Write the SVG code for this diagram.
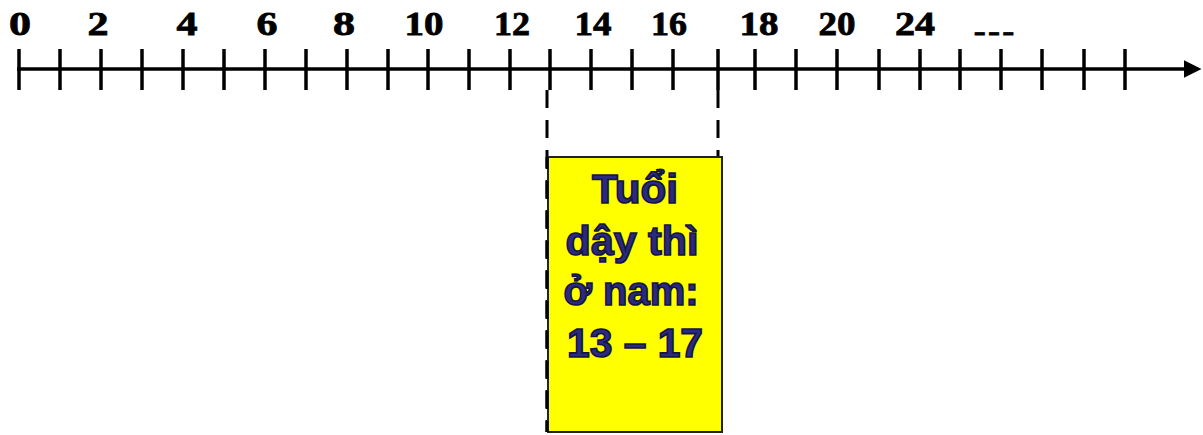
<svg xmlns="http://www.w3.org/2000/svg" width="1203" height="435" viewBox="0 0 1203 435">
<style>
.num{font-family:"Liberation Serif","Times New Roman",serif;font-weight:bold;font-size:34px;fill:#000;stroke:#000;stroke-width:0.8;text-anchor:middle}
.tick{stroke:#000;stroke-width:3.5}
.dash{stroke:#000;stroke-width:3;stroke-dasharray:18 12;fill:none}
.lbl{font-family:"Liberation Sans",Arial,sans-serif;font-weight:bold;font-size:40px;fill:#2a2a80;stroke:#15153f;stroke-width:1.6;text-anchor:middle}
</style>
<defs>
<marker id="arr" markerWidth="5" markerHeight="5" refX="4" refY="2.5" orient="auto" markerUnits="strokeWidth">
<path d="M0,0 L5,2.5 L0,5 Z" fill="#000"/>
</marker>
</defs>
<rect width="1203" height="435" fill="#fff"/>
<g id="axis">
<line x1="17" y1="69" x2="1198" y2="69" stroke="#000" stroke-width="3.5" marker-end="url(#arr)"/>
<g id="ticks">
<line class="tick" x1="19" y1="49" x2="19" y2="90"/>
<line class="tick" x1="60" y1="49" x2="60" y2="90"/>
<line class="tick" x1="101" y1="49" x2="101" y2="90"/>
<line class="tick" x1="142" y1="49" x2="142" y2="90"/>
<line class="tick" x1="183" y1="49" x2="183" y2="90"/>
<line class="tick" x1="224" y1="49" x2="224" y2="90"/>
<line class="tick" x1="265" y1="49" x2="265" y2="90"/>
<line class="tick" x1="306" y1="49" x2="306" y2="90"/>
<line class="tick" x1="347" y1="49" x2="347" y2="90"/>
<line class="tick" x1="388" y1="49" x2="388" y2="90"/>
<line class="tick" x1="428" y1="49" x2="428" y2="90"/>
<line class="tick" x1="469" y1="49" x2="469" y2="90"/>
<line class="tick" x1="510" y1="49" x2="510" y2="90"/>
<line class="tick" x1="550" y1="49" x2="550" y2="90"/>
<line class="tick" x1="591" y1="49" x2="591" y2="90"/>
<line class="tick" x1="632" y1="49" x2="632" y2="90"/>
<line class="tick" x1="673" y1="49" x2="673" y2="90"/>
<line class="tick" x1="718" y1="49" x2="718" y2="90" stroke-width="4.5"/>
<line class="tick" x1="755" y1="49" x2="755" y2="90"/>
<line class="tick" x1="796" y1="49" x2="796" y2="90"/>
<line class="tick" x1="837" y1="49" x2="837" y2="90"/>
<line class="tick" x1="879" y1="49" x2="879" y2="90"/>
<line class="tick" x1="920" y1="49" x2="920" y2="90"/>
<line class="tick" x1="960" y1="49" x2="960" y2="90"/>
<line class="tick" x1="1001" y1="49" x2="1001" y2="90"/>
<line class="tick" x1="1042" y1="49" x2="1042" y2="90"/>
<line class="tick" x1="1084" y1="49" x2="1084" y2="90"/>
<line class="tick" x1="1125" y1="49" x2="1125" y2="90"/>
</g>
<g id="labels">
<text class="num" x="20" y="35" textLength="22" lengthAdjust="spacingAndGlyphs">0</text>
<text class="num" x="98" y="35" textLength="21" lengthAdjust="spacingAndGlyphs">2</text>
<text class="num" x="187" y="35" textLength="21" lengthAdjust="spacingAndGlyphs">4</text>
<text class="num" x="267" y="35" textLength="21" lengthAdjust="spacingAndGlyphs">6</text>
<text class="num" x="344" y="35" textLength="22" lengthAdjust="spacingAndGlyphs">8</text>
<text class="num" x="424" y="35" textLength="39" lengthAdjust="spacingAndGlyphs">10</text>
<text class="num" x="512" y="35" textLength="36" lengthAdjust="spacingAndGlyphs">12</text>
<text class="num" x="593" y="35" textLength="37" lengthAdjust="spacingAndGlyphs">14</text>
<text class="num" x="669" y="35" textLength="36" lengthAdjust="spacingAndGlyphs">16</text>
<text class="num" x="759" y="35" textLength="39" lengthAdjust="spacingAndGlyphs">18</text>
<text class="num" x="837" y="35" textLength="37" lengthAdjust="spacingAndGlyphs">20</text>
<text class="num" x="915" y="35" textLength="40" lengthAdjust="spacingAndGlyphs">24</text>
<text class="num" x="994" y="30" font-size="24" stroke-width="0.3" textLength="38" lengthAdjust="spacingAndGlyphs">_ _ _</text>
</g>
</g>
<g id="connectors">
<line class="dash" x1="547" y1="90" x2="547" y2="432"/>
<line class="dash" x1="718" y1="90" x2="718" y2="157" stroke-dasharray="0 16 20 16 20"/>
</g>
<g id="box">
<rect x="548" y="157" width="174" height="275" fill="#ffff00" stroke="#222" stroke-width="2"/>
<line class="dash" x1="547" y1="157" x2="547" y2="432" stroke-dashoffset="6"/>
<text class="lbl" x="635" y="203" textLength="86" lengthAdjust="spacingAndGlyphs">Tuổi</text>
<text class="lbl" x="632" y="255" textLength="133" lengthAdjust="spacingAndGlyphs">dậy thì</text>
<text class="lbl" x="631" y="305" textLength="135" lengthAdjust="spacingAndGlyphs">ở nam:</text>
<text class="lbl" x="635" y="357" textLength="136" lengthAdjust="spacingAndGlyphs">13 – 17</text>
</g>
</svg>
